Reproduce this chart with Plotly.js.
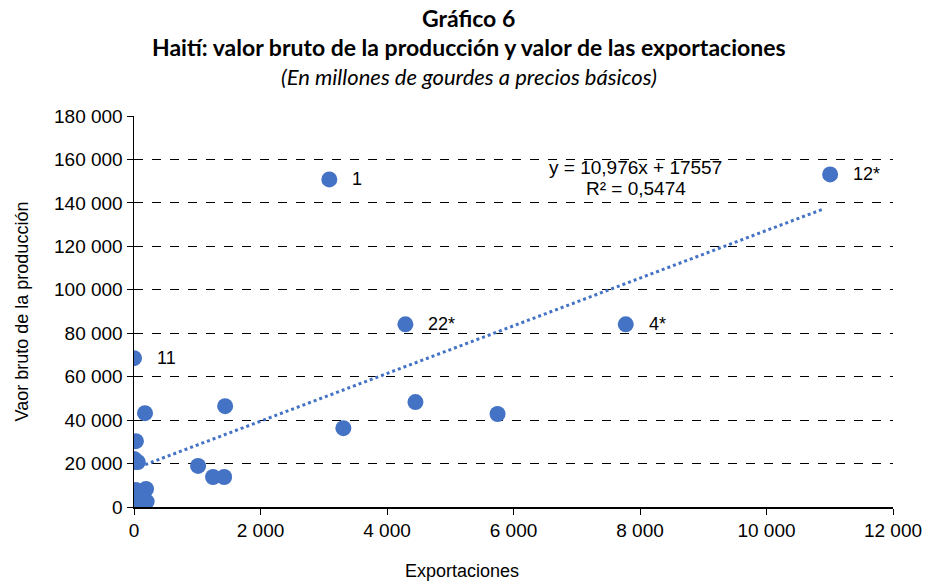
<!DOCTYPE html>
<html><head><meta charset="utf-8">
<script src="https://cdn.plot.ly/plotly-3.0.1.min.js"></script>
<style>html,body{margin:0;padding:0;background:#fff}#chart{width:925px;height:586px}</style>
</head><body><div id="chart"></div>
<script>
// Data
const exportaciones = [3088, 11006, 4291, 7775, 0, 174, 1441, 3310, 30, 0, 60, 1013, 1250, 1425, 4450, 5748, 30, 190, 80, 20, 60, 100, 200, 150];
const valorBruto   = [150800, 153100, 84100, 84100, 68500, 43200, 46400, 36300, 30300, 22100, 20700, 18900, 13800, 13800, 48300, 42800, 7800, 8300, 7000, 1000, 500, 1500, 2500, 3000];
const etiquetas    = ["1", "12*", "22*", "4*", "11", "", "", "", "", "", "", "", "", "", "", "", "", "", "", "", "", "", "", ""];
const xTicks = [0, 2000, 4000, 6000, 8000, 10000, 12000];
// Trendline shown in chart: y = 10,976x + 17557
const pendiente = 10.976;
const intercepto = 17557;
const trendX = [0, 10900];
const trendY = trendX.map(x => pendiente * x + intercepto);

const blue = '#4472C4';
const arial = 'Arial, "Liberation Sans", sans-serif';
const traces = [
  {x: exportaciones, y: valorBruto, type: 'scatter', mode: 'markers',
   marker: {color: blue, size: 16}},
  {x: trendX, y: trendY, type: 'scatter', mode: 'lines',
   line: {color: blue, width: 3, dash: 'dot'}}
];

const annotations = [];
exportaciones.forEach((x, i) => {
  if (etiquetas[i]) annotations.push({x: x, y: valorBruto[i], xref: 'x', yref: 'y', text: etiquetas[i],
    showarrow: false, xanchor: 'left', xshift: 21, font: {family: arial, size: 18, color: '#000'}});
});
annotations.push({xref: 'x', yref: 'y', x: 7930, y: 156300, text: 'y = 10,976x + 17557', showarrow: false,
  font: {family: arial, size: 19, color: '#000'}});
annotations.push({xref: 'x', yref: 'y', x: 7930, y: 146700, text: 'R² = 0,5474', showarrow: false,
  font: {family: arial, size: 19, color: '#000'}});
// Title lines
const titleFont = 'Lato, "Open Sans", sans-serif';
annotations.push({xref: 'paper', yref: 'paper', x: 0.441, y: (507 - 18) / 391, xanchor: 'center', yanchor: 'middle',
  showarrow: false, text: '<b>Gráfico 6</b>', font: {family: titleFont, size: 23, color: '#000'}});
annotations.push({xref: 'paper', yref: 'paper', x: 0.441, y: (507 - 47) / 391, xanchor: 'center', yanchor: 'middle',
  showarrow: false, text: '<b>Haití: valor bruto de la producción y valor de las exportaciones</b>', font: {family: titleFont, size: 23, color: '#000'}});
annotations.push({xref: 'paper', yref: 'paper', x: 0.441, y: (507 - 77) / 391, xanchor: 'center', yanchor: 'middle',
  showarrow: false, text: '<i>(En millones de gourdes a precios básicos)</i>', font: {family: titleFont, size: 22, color: '#000'}});
// X axis title (centered on the page, as in the reference)
annotations.push({xref: 'paper', yref: 'paper', x: (462 - 134) / 759, y: (507 - 571) / 391, xanchor: 'center', yanchor: 'middle',
  showarrow: false, text: 'Exportaciones', font: {family: arial, size: 18, color: '#000'}});

const layout = {
  width: 925, height: 586,
  margin: {l: 134, r: 32, t: 116, b: 79},
  paper_bgcolor: '#fff', plot_bgcolor: '#fff',
  showlegend: false,
  separators: ', ',
  font: {family: arial, size: 19, color: '#000'},
  xaxis: {range: [0, 12000], tickvals: xTicks, separatethousands: true,
    tickformat: ',d', showgrid: false, zeroline: false, showline: true, linecolor: '#000', linewidth: 1.5,
    ticks: 'outside', ticklen: 6, tickcolor: '#000', tickfont: {size: 19}},
  yaxis: {range: [0, 180000], dtick: 20000, separatethousands: true, tickformat: ',d',
    showgrid: true, gridcolor: '#000', griddash: 'dash', gridwidth: 1,
    zeroline: false, showline: true, linecolor: '#000', linewidth: 1.5,
    ticks: 'outside', ticklen: 6, tickcolor: '#000', tickfont: {size: 19},
    title: {text: 'Vaor bruto de la producción', standoff: 20, font: {size: 18}}},
  annotations: annotations
};
Plotly.newPlot('chart', traces, layout, {displayModeBar: false, staticPlot: true});
</script></body></html>
